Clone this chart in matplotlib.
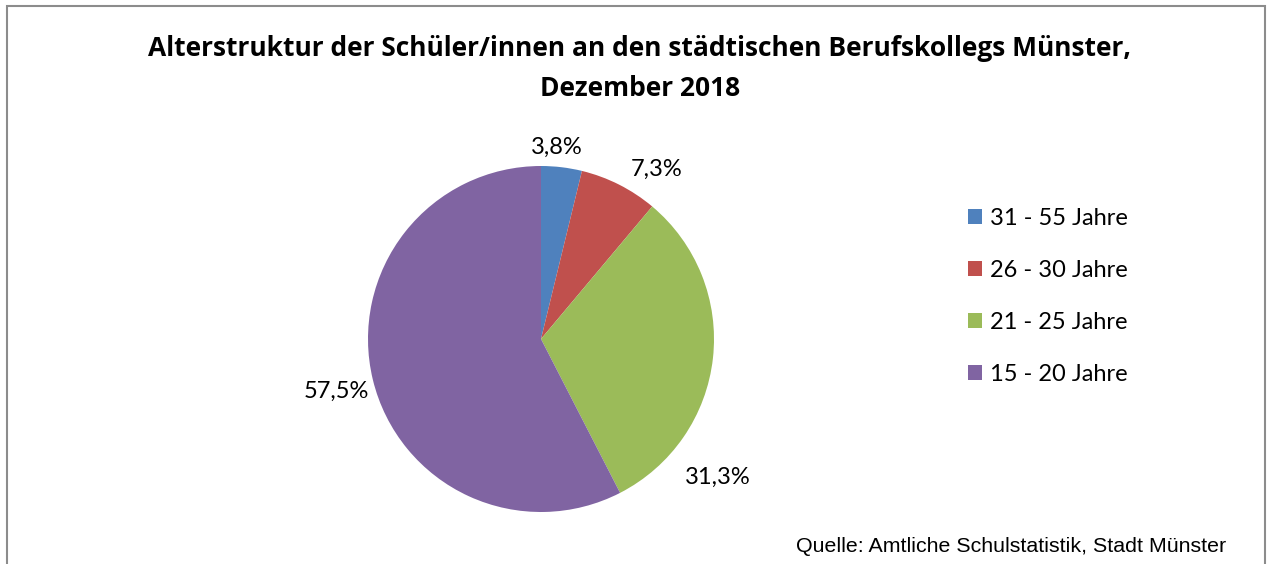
import matplotlib
matplotlib.use("Agg")
import matplotlib.pyplot as plt
from matplotlib.patches import Rectangle

categories = ["31 - 55 Jahre", "26 - 30 Jahre", "21 - 25 Jahre", "15 - 20 Jahre"]
shares = [3.8, 7.3, 31.3, 57.5]
colors = ["#4F81BD", "#C0504D", "#9BBB59", "#8064A2"]
label_pos = [(0.09, 1.11), (0.67, 0.98), (1.02, -0.80), (-1.185, -0.30)]

W, H = 1272, 564
fig = plt.figure(figsize=(W / 100, H / 100), dpi=100)

# outer frame
fig.patches.append(Rectangle((7 / W, -0.05), (1265 - 7) / W, (H - 6) / H + 0.05,
                             transform=fig.transFigure, fill=False,
                             edgecolor="#8c8c8c", linewidth=1.5))

cx, cy, r = 541, 339, 173
ax = fig.add_axes([(cx - r) / W, (H - cy - r) / H, 2 * r / W, 2 * r / H])
wedges, _ = ax.pie(shares, colors=colors, startangle=90, counterclock=False,
                   radius=1, wedgeprops=dict(linewidth=0))
ax.set_xlim(-1, 1)
ax.set_ylim(-1, 1)
ax.set_aspect("auto")
ax.axis("off")

for v, (x, y) in zip(shares, label_pos):
    ax.text(x, y, f"{v:.1f}%".replace(".", ","), ha="center", va="center",
            fontsize=17, family="Lato", clip_on=False)

fig.text(640 / W, 1 - 48 / H,
         "Alterstruktur der Schüler/innen an den städtischen Berufskollegs Münster,",
         ha="center", va="center", fontsize=19, fontweight="bold", family="Open Sans")
fig.text(640 / W, 1 - 89 / H, "Dezember 2018",
         ha="center", va="center", fontsize=19, fontweight="bold", family="Open Sans")

leg = fig.legend(wedges, categories, loc="upper left",
                 bbox_to_anchor=(947 / W, 1 - 187 / H), frameon=False,
                 prop=dict(family="Lato", size=17), handlelength=0.6,
                 handleheight=0.6, handletextpad=0.3, labelspacing=1.31)

fig.text(1226 / W, 1 - 546 / H, "Quelle: Amtliche Schulstatistik, Stadt Münster",
         ha="right", va="center", fontsize=15.4, family="Liberation Sans")

fig.savefig("out.png", dpi=100)
